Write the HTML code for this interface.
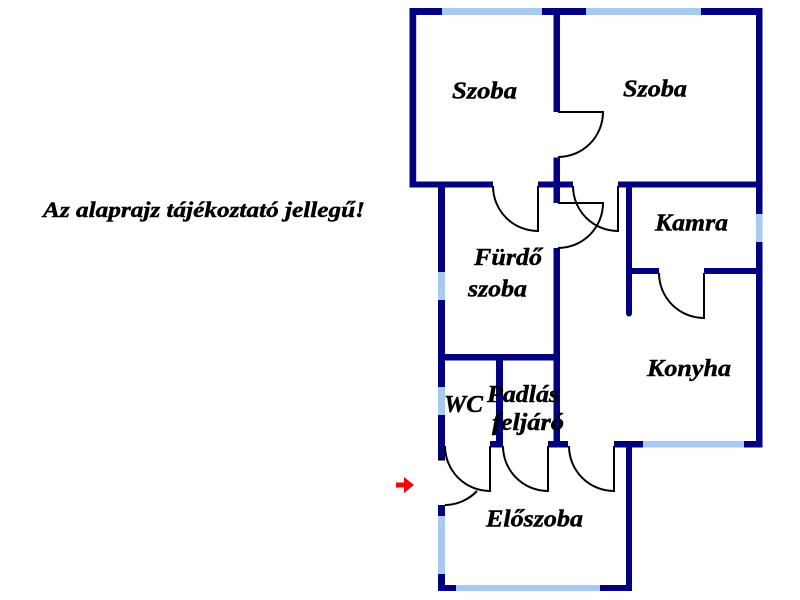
<!DOCTYPE html>
<html>
<head>
<meta charset="utf-8">
<style>
  html,body{margin:0;padding:0;background:#fff;}
  svg{display:block;}
  text{font-family:"Liberation Serif","DejaVu Serif",serif;font-weight:bold;font-style:italic;fill:#000;stroke:#000;stroke-width:0.45;}
</style>
</head>
<body>
<svg width="800" height="600" viewBox="0 0 800 600" xmlns="http://www.w3.org/2000/svg">
  <rect x="0" y="0" width="800" height="600" fill="#fff"/>

  <!-- Walls -->
  <g fill="#000080">
    <rect x="409.5" y="8" width="353" height="7"/>
    <rect x="409.5" y="8" width="6.7" height="179.5"/>
    <rect x="756" y="8" width="6.5" height="439.5"/>
    <rect x="409.5" y="181.5" width="83.5" height="6"/>
    <rect x="538" y="181.5" width="35" height="6"/>
    <rect x="618" y="181.5" width="144.5" height="6"/>
    <rect x="553.5" y="8" width="6.5" height="104"/>
    <rect x="553.5" y="157.5" width="6.5" height="45.5"/>
    <rect x="553.5" y="248" width="6.5" height="199"/>
    <rect x="438" y="181.5" width="7" height="278.5"/>
    <rect x="438" y="354" width="122" height="6.5"/>
    <rect x="496" y="354" width="7" height="93"/>
    <rect x="490" y="441" width="13" height="6.5"/>
    <rect x="548" y="441" width="20" height="6.5"/>
    <rect x="626" y="181.5" width="6" height="132"/>
    <circle cx="629" cy="313.5" r="3"/>
    <rect x="626" y="268" width="33" height="6"/>
    <rect x="704" y="268" width="58.5" height="6"/>
    <rect x="614" y="441" width="148.5" height="6.5"/>
    <rect x="626" y="441" width="6" height="150"/>
    <rect x="438" y="585" width="194" height="6"/>
    <rect x="438" y="505" width="7" height="86"/>
  </g>

  <!-- Windows -->
  <g fill="#a6caf0">
    <rect x="442" y="8" width="100" height="7"/>
    <rect x="586" y="8" width="115" height="7"/>
    <rect x="756" y="214" width="6.5" height="28"/>
    <rect x="438" y="272" width="7" height="28"/>
    <rect x="438" y="387" width="7" height="28"/>
    <rect x="643" y="441" width="101" height="6.5"/>
    <rect x="456" y="585" width="144" height="6"/>
    <rect x="438" y="516" width="7" height="58"/>
  </g>

  <!-- Doors -->
  <g fill="none" stroke="#000" stroke-width="2">
    <path d="M558 112 H603 A45 45 0 0 1 558 157"/>
    <path d="M493 186 A45 45 0 0 0 538 231 V186"/>
    <path d="M558 203 H603 A45 45 0 0 1 558 248"/>
    <path d="M573 186 A45 45 0 0 0 618 231 V186"/>
    <path d="M659 273 A45 45 0 0 0 704 318 V273"/>
    <path d="M445 446 A45 45 0 0 0 490 491 V446"/>
    <path d="M503 446 A45 45 0 0 0 548 491 V446"/>
    <path d="M569 446 A45 45 0 0 0 614 491 V446"/>
    <path d="M445 505 A45 45 0 0 0 477 491"/>
    <path d="M438 459.5 H445"/>
  </g>

  <!-- Red arrow -->
  <g fill="#ff0000">
    <rect x="396" y="482.5" width="9" height="5"/>
    <polygon points="404,477 414,485 404,493"/>
  </g>

  <!-- Labels -->
  <text x="43" y="217" font-size="22" textLength="322" lengthAdjust="spacingAndGlyphs">Az alaprajz tájékoztató jellegű!</text>
  <text x="452" y="98.5" font-size="24" textLength="65" lengthAdjust="spacingAndGlyphs">Szoba</text>
  <text x="623" y="96.5" font-size="24" textLength="64" lengthAdjust="spacingAndGlyphs">Szoba</text>
  <text x="474" y="265" font-size="24" textLength="68" lengthAdjust="spacingAndGlyphs">Fürdő</text>
  <text x="468" y="296.5" font-size="24" textLength="59" lengthAdjust="spacingAndGlyphs">szoba</text>
  <text x="655" y="230.5" font-size="24" textLength="73" lengthAdjust="spacingAndGlyphs">Kamra</text>
  <text x="647" y="376" font-size="24" textLength="84" lengthAdjust="spacingAndGlyphs">Konyha</text>
  <text x="444" y="412" font-size="24" textLength="39" lengthAdjust="spacingAndGlyphs">WC</text>
  <text x="487" y="402" font-size="24" textLength="72" lengthAdjust="spacingAndGlyphs">Padlás</text>
  <text x="492" y="430" font-size="24" textLength="72" lengthAdjust="spacingAndGlyphs">feljáró</text>
  <text x="486" y="526.5" font-size="24" textLength="97" lengthAdjust="spacingAndGlyphs">Előszoba</text>
</svg>
</body>
</html>
